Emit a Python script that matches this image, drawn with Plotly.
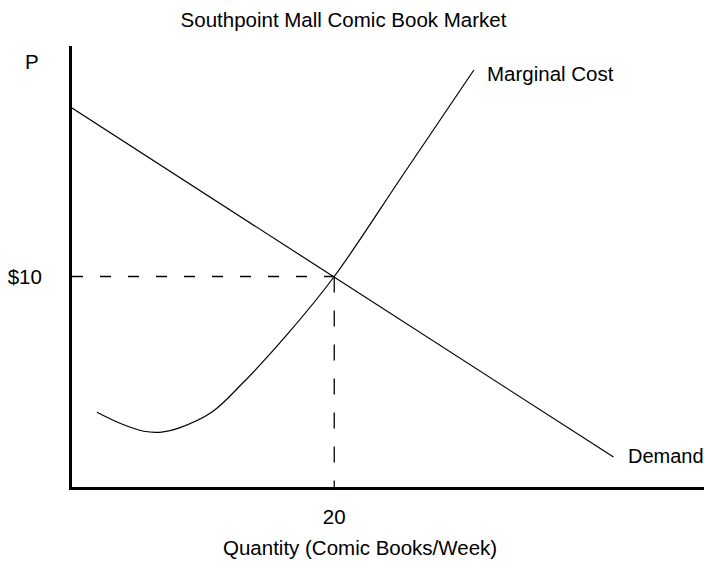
import plotly.graph_objects as go

# Data (quantity in comic books/week, price in $)
demand_q = [0.0, 41.3]
demand_p = [18.0, 1.42]

mc_q = [1.90, 3.80, 5.48, 6.84, 8.14, 10.65, 12.93, 16.35, 20.0, 25.3, 30.65]
mc_p = [3.55, 2.99, 2.65, 2.61, 2.80, 3.55, 4.88, 7.20, 10.0, 14.88, 19.81]

eq_q = 20
eq_p = 10

x_tick_vals = [20]
x_tick_text = ["20"]
y_tick_vals = [10]
y_tick_text = ["$10"]

FONT = "Liberation Sans, Arial, sans-serif"
FS = 20.5

W, H = 704, 561
L, R, T, B = 72, 0, 46, 74
PW, PH = W - L - R, H - T - B


def px(xp):
    return (xp - L) / PW


def py(yp):
    return (H - B - yp) / PH


fig = go.Figure()

fig.add_trace(go.Scatter(x=[0, eq_q], y=[eq_p, eq_p], mode="lines",
                         line=dict(color="black", width=1.3, dash="11px,17px"),
                         hoverinfo="skip", showlegend=False))
fig.add_trace(go.Scatter(x=[eq_q, eq_q], y=[eq_p, 0], mode="lines",
                         line=dict(color="black", width=1.3, dash="16px,18px"),
                         hoverinfo="skip", showlegend=False))
fig.add_trace(go.Scatter(x=demand_q, y=demand_p, mode="lines",
                         line=dict(color="black", width=1.2),
                         showlegend=False, name="Demand"))
fig.add_trace(go.Scatter(x=mc_q, y=mc_p, mode="lines",
                         line=dict(color="black", width=1.2, shape="spline", smoothing=1.0),
                         showlegend=False, name="Marginal Cost"))

fig.add_annotation(x=mc_q[-1], y=mc_p[-1], xref="x", yref="y", text="Marginal Cost",
                   showarrow=False, xanchor="left", yanchor="middle", xshift=11, yshift=-3,
                   font=dict(family=FONT, size=FS, color="black"))
fig.add_annotation(x=demand_q[-1], y=demand_p[-1], xref="x", yref="y", text="Demand",
                   showarrow=False, xanchor="left", yanchor="middle", xshift=12, yshift=1,
                   font=dict(family=FONT, size=20, color="black"))

fig.add_annotation(x=px(32), y=py(61.5), xref="paper", yref="paper", text="P",
                   showarrow=False, xanchor="center", yanchor="middle",
                   font=dict(family=FONT, size=FS, color="black"))
fig.add_annotation(x=px(360), y=py(547), xref="paper", yref="paper",
                   text="Quantity (Comic Books/Week)",
                   showarrow=False, xanchor="center", yanchor="middle",
                   font=dict(family=FONT, size=FS, color="black"))

fig.update_layout(
    width=W, height=H,
    margin=dict(l=L, r=R, t=T, b=B),
    paper_bgcolor="white", plot_bgcolor="white",
    title=dict(text="Southpoint Mall Comic Book Market", x=343.5 / W, y=1 - 19.5 / H,
               xanchor="center", yanchor="middle", xref="container", yref="container",
               font=dict(family=FONT, size=FS, color="black")),
    font=dict(family=FONT, size=FS, color="black"),
    xaxis=dict(range=[0, 48.2], showgrid=False, zeroline=False, showline=True,
               linecolor="black", linewidth=3, ticks="", tickvals=x_tick_vals,
               ticktext=x_tick_text, ticklabelstandoff=9,
               tickfont=dict(family=FONT, size=FS, color="black")),
    yaxis=dict(range=[0, 20.95], showgrid=False, zeroline=False, showline=True,
               linecolor="black", linewidth=3, ticks="", tickvals=y_tick_vals,
               ticktext=y_tick_text, ticklabelstandoff=23,
               tickfont=dict(family=FONT, size=FS, color="black")),
)

fig.write_html("out.html",
               config={"displayModeBar": False},
               post_script="document.body.style.margin='0';document.body.style.overflow='hidden';")
